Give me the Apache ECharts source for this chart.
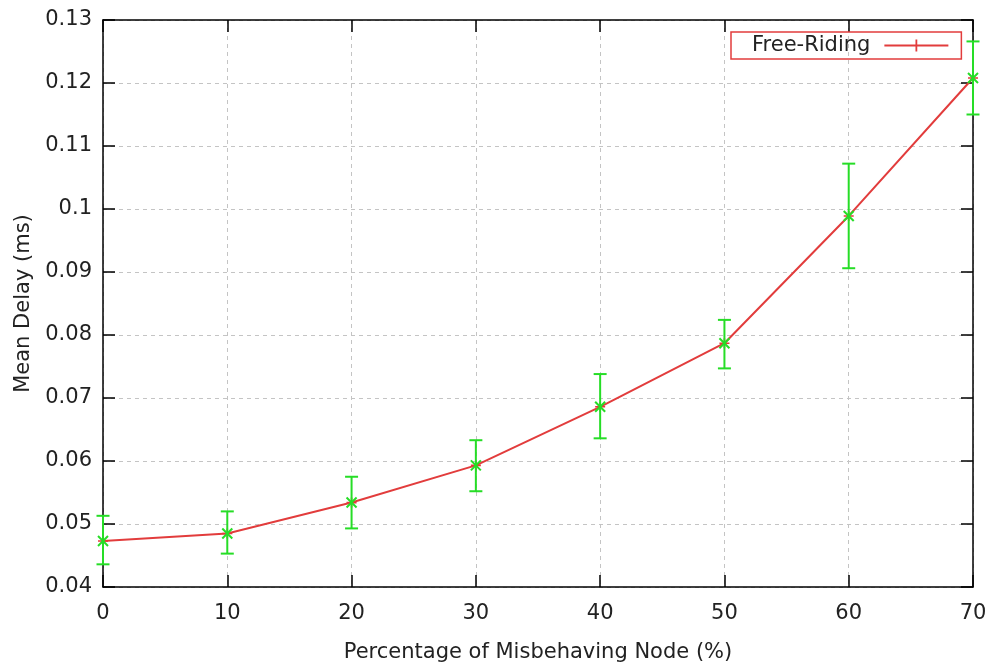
<!DOCTYPE html>
<html>
<head>
<meta charset="utf-8">
<script src="https://cdn.jsdelivr.net/npm/echarts@6/dist/echarts.min.js"></script>
<style>html,body{margin:0;padding:0;background:#fff;}#c{width:995px;height:669px;}</style>
</head>
<body>
<div id="c"></div>
<script>
const xValues = [0, 10, 20, 30, 40, 50, 60, 70];
const meanDelay = [0.0473, 0.0485, 0.0534, 0.0593, 0.0686, 0.0787, 0.0989, 0.1208];
const lowDelay  = [0.0436, 0.0453, 0.0493, 0.0552, 0.0636, 0.0747, 0.0906, 0.1150];
const highDelay = [0.0513, 0.0520, 0.0575, 0.0633, 0.0738, 0.0824, 0.1072, 0.1266];
const seriesName = 'Free-Riding';
const xName = 'Percentage of Misbehaving Node (%)';
const yName = 'Mean Delay (ms)';

const RED = '#e23c3c';
const GREEN = '#26dd26';
const FONT = 'DejaVu Sans';
const TXT = '#222';
const FS = 21;

const lineData = xValues.map((x, i) => [x, meanDelay[i]]);
const errData = xValues.map((x, i) => [x, meanDelay[i], lowDelay[i], highDelay[i]]);

const chart = echarts.init(document.getElementById('c'), null, {renderer: 'canvas'});
const fmtY = v => String(Math.round(v * 100) / 100);

chart.setOption({
  backgroundColor: '#fff',
  animation: false,
  grid: {left: 103, right: 22, top: 20, bottom: 82},
  legend: {
    data: [seriesName],
    left: 731, top: 32,
    align: 'right',
    padding: [3, 13, 3, 21],
    borderColor: RED, borderWidth: 1.5,
    itemWidth: 64, itemHeight: 12,
    icon: 'path://M0,5.1H64V6.9H0Z M31.1,0H32.9V12H31.1Z',
    textStyle: {fontFamily: FONT, fontSize: FS, color: TXT,
      rich: {a: {fontFamily: FONT, fontSize: FS, color: TXT, padding: [0, 9, 0, 0]}}},
    formatter: n => '{a|' + n + '}'
  },
  xAxis: [{
    type: 'value', min: 0, max: 70, interval: 10, position: 'bottom',
    name: xName, nameLocation: 'middle', nameGap: 55,
    nameTextStyle: {fontFamily: FONT, fontSize: FS, color: TXT},
    axisLine: {show: true, onZero: false, lineStyle: {color: '#000', width: 1.5}},
    axisTick: {show: true, inside: true, length: 12, lineStyle: {color: '#000', width: 1.5}},
    axisLabel: {fontFamily: FONT, fontSize: FS, color: TXT, margin: 16},
    splitLine: {show: true, lineStyle: {color: '#c4c4c4', type: [4, 4], width: 1}}
  }, {
    type: 'value', min: 0, max: 70, interval: 10, position: 'top',
    axisLine: {show: true, onZero: false, lineStyle: {color: '#000', width: 1.5}},
    axisTick: {show: true, inside: true, length: 12, lineStyle: {color: '#000', width: 1.5}},
    axisLabel: {show: false},
    splitLine: {show: false}
  }],
  yAxis: [{
    type: 'value', min: 0.04, max: 0.13, interval: 0.01, position: 'left',
    name: yName, nameLocation: 'middle', nameGap: 67,
    nameTextStyle: {fontFamily: FONT, fontSize: FS, color: TXT},
    axisLine: {show: true, onZero: false, lineStyle: {color: '#000', width: 1.5}},
    axisTick: {show: true, inside: true, length: 12, lineStyle: {color: '#000', width: 1.5}},
    axisLabel: {fontFamily: FONT, fontSize: FS, color: TXT, margin: 11, formatter: fmtY},
    splitLine: {show: true, lineStyle: {color: '#c4c4c4', type: [4, 4], width: 1}}
  }, {
    type: 'value', min: 0.04, max: 0.13, interval: 0.01, position: 'right',
    axisLine: {show: true, onZero: false, lineStyle: {color: '#000', width: 1.5}},
    axisTick: {show: true, inside: true, length: 12, lineStyle: {color: '#000', width: 1.5}},
    axisLabel: {show: false},
    splitLine: {show: false}
  }],
  series: [{
    name: seriesName,
    type: 'line',
    xAxisIndex: 0, yAxisIndex: 0,
    z: 3,
    data: lineData,
    symbol: 'path://M0,4.2H10V5.8H0Z M4.2,0H5.8V10H4.2Z',
    symbolSize: 10,
    itemStyle: {color: RED},
    lineStyle: {color: RED, width: 2}
  }, {
    name: 'errors',
    type: 'custom',
    xAxisIndex: 0, yAxisIndex: 0,
    z: 4,
    data: errData,
    renderItem: function (params, api) {
      const x = api.value(0);
      const pm = api.coord([x, api.value(1)]);
      const pl = api.coord([x, api.value(2)]);
      const ph = api.coord([x, api.value(3)]);
      const st = {stroke: GREEN, lineWidth: 2};
      const c = 6.5, a = 5;
      const mk = (x1, y1, x2, y2) => ({type: 'line', shape: {x1, y1, x2, y2}, style: st});
      return {type: 'group', children: [
        mk(pl[0], pl[1], ph[0], ph[1]),
        mk(ph[0] - c, ph[1], ph[0] + c, ph[1]),
        mk(pl[0] - c, pl[1], pl[0] + c, pl[1]),
        mk(pm[0] - a, pm[1] - a, pm[0] + a, pm[1] + a),
        mk(pm[0] - a, pm[1] + a, pm[0] + a, pm[1] - a)
      ]};
    }
  }]
});
</script>
</body>
</html>
